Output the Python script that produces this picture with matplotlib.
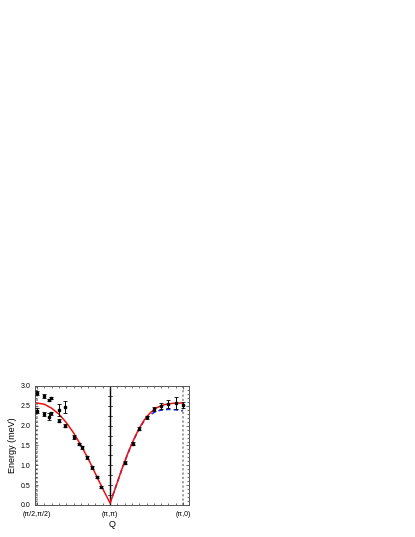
import matplotlib.pyplot as plt
from matplotlib.ticker import MultipleLocator
import numpy as np

plt.rcParams['font.family'] = ['Liberation Sans', 'DejaVu Sans']

# datos medidos (Q normalizado: -1 = (pi/2,pi/2), 0 = (pi,pi), 1 = (pi,0))
q_data = [-1.0, -1.0, -0.91, -0.91, -0.83, -0.81, -0.83, -0.81, -0.70, -0.70,
          -0.62, -0.62, -0.50, -0.42, -0.39, -0.31, -0.25, -0.18, -0.12,
          0.20, 0.31, 0.40, 0.50, 0.60, 0.70, 0.80, 0.90, 1.0]
e_data = [2.82, 2.38, 2.75, 2.29, 2.65, 2.69, 2.23, 2.31, 2.40, 2.13,
          2.46, 2.00, 1.72, 1.54, 1.45, 1.20, 0.95, 0.70, 0.45,
          1.07, 1.55, 1.92, 2.21, 2.41, 2.50, 2.55, 2.56, 2.52]
e_err = [0.05, 0.06, 0.05, 0.05, 0.03, 0.03, 0.08, 0.04, 0.15, 0.03,
         0.15, 0.04, 0.05, 0.03, 0.03, 0.03, 0.03, 0.03, 0.03,
         0.03, 0.03, 0.04, 0.04, 0.05, 0.08, 0.10, 0.15, 0.08]

# curva roja (modelo)
q_red = [-1.0, -0.9, -0.8, -0.7, -0.6, -0.5, -0.4, -0.3, -0.2, -0.1, 0.0,
         0.05, 0.1, 0.15, 0.2, 0.25, 0.3, 0.35, 0.4, 0.45, 0.5, 0.55, 0.6,
         0.65, 0.7, 0.75, 0.8, 0.85, 0.9, 0.95, 1.0]
e_red = [2.57, 2.54, 2.44, 2.29, 2.08, 1.82, 1.51, 1.17, 0.79, 0.41, 0.05,
         0.30, 0.57, 0.84, 1.09, 1.33, 1.55, 1.75, 1.93, 2.09, 2.22, 2.32, 2.40,
         2.46, 2.50, 2.53, 2.55, 2.56, 2.57, 2.57, 2.57]

# curva azul discontinua
q_blue = [0.0, 0.1, 0.2, 0.3, 0.4, 0.45, 0.5, 0.55, 0.6, 0.65, 0.7, 0.8, 0.9, 1.0]
e_blue = [0.05, 0.57, 1.09, 1.55, 1.92, 2.07, 2.19, 2.27, 2.33, 2.37, 2.39, 2.41, 2.40, 2.37]

xtick_pos = [-1, 0, 1]
xtick_lab = ['(π/2,π/2)', '(π,π)', '(π,0)']

fig = plt.figure(figsize=(4.15, 5.37), dpi=100)
ax = fig.add_axes([0.084, 0.0596, 0.371, 0.2216])

ax.axvline(-1, color='#999999', ls=(0, (1.2, 1.2)), lw=1.3, zorder=1)
ax.axvline(1, color='#999999', ls=(0, (1.2, 1.2)), lw=1.3, zorder=1)
ax.axvline(0, color='black', lw=1.0, zorder=1)

# marcas sobre la linea central
for yy in np.arange(0.25, 3.0, 0.25):
    ax.plot([-0.025, 0.025], [yy, yy], color='black', lw=0.5, zorder=1)

ax.plot(q_blue, e_blue, color='#1a2be0', ls=(0, (3, 2)), lw=1.1, zorder=2)
ax.plot(q_red, e_red, color='#ee1111', lw=1.1, zorder=3)
ax.errorbar(q_data, e_data, yerr=e_err, fmt='s', color='black', ms=1.8,
            elinewidth=0.7, capsize=1.5, capthick=0.6, zorder=4)

ax.set_xlim(-1.03, 1.08)
ax.set_ylim(0, 3.0)
ax.set_xticks(xtick_pos)
ax.set_xticklabels(xtick_lab)
ax.xaxis.set_minor_locator(MultipleLocator(0.1))
ax.yaxis.set_major_locator(MultipleLocator(0.5))
ax.yaxis.set_minor_locator(MultipleLocator(0.1))
ax.tick_params(which='both', direction='in', top=True, right=True,
               labelsize=5, width=0.5, colors='#333333', labelcolor='black')
ax.tick_params(axis='x', pad=4)
ax.tick_params(axis='y', pad=3)
ax.tick_params(which='major', length=2.5)
ax.tick_params(which='minor', length=1.5)
for s in ax.spines.values():
    s.set_linewidth(0.7)
    s.set_color('#555555')

ax.set_xlabel('Q', fontsize=6.5, labelpad=2)
ax.set_ylabel('Energy (meV)', fontsize=6.5, labelpad=3)

fig.savefig('out.png', dpi=100)
